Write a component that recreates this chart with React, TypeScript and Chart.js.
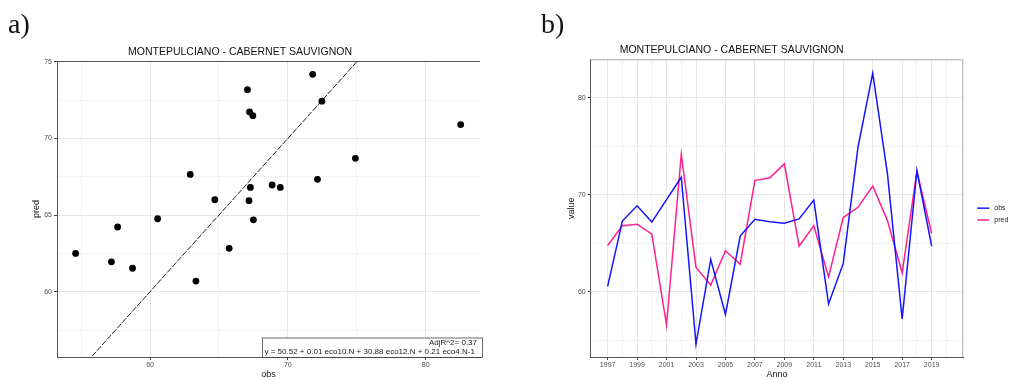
import React, { useEffect, useRef } from "react";
import { Chart, registerables } from "chart.js";

Chart.register(...registerables);

// ---------- data ----------
const years = [
  1997, 1998, 1999, 2000, 2001, 2002, 2003, 2004, 2005, 2006, 2007, 2008,
  2009, 2010, 2011, 2012, 2013, 2014, 2015, 2016, 2017, 2018, 2019,
];
const obs = [
  60.55, 67.28, 68.86, 67.18, 69.5, 71.8, 54.6, 63.33, 57.65, 65.74, 67.46,
  67.22, 67.07, 67.5, 69.45, 58.73, 62.92, 74.9, 82.54, 72.15, 57.2, 72.47,
  64.7,
];
const pred = [
  64.76, 66.8, 66.96, 65.94, 56.57, 74.18, 62.5, 60.69, 64.22, 62.83, 71.48,
  71.73, 73.18, 64.69, 66.8, 61.53, 67.65, 68.7, 70.9, 67.33, 61.95, 72.43,
  66.0,
];

const chartTitle = "MONTEPULCIANO - CABERNET SAUVIGNON";
const scatterXLabels = [60, 70, 80];
const scatterXGrid = [55, 60, 65, 70, 75, 80];
const scatterYLabels = [60, 65, 70, 75];
const scatterYGrid = [57.5, 60, 62.5, 65, 67.5, 70, 72.5, 75];
const yearLabels = [
  1997, 1999, 2001, 2003, 2005, 2007, 2009, 2011, 2013, 2015, 2017, 2019,
];
const yearGrid = [
  1997, 1998, 1999, 2000, 2001, 2002, 2003, 2005, 2007, 2009, 2011, 2013,
  2015, 2017, 2018, 2019, 2020,
];
const valueLabels = [60, 70, 80];
const valueGrid = [55, 60, 65, 70, 75, 80];
const adjR2Text = "AdjR^2= 0.37";
const equationText =
  "y = 50.52 + 0.01 eco10.N + 30.88 eco12.N + 0.21 eco4.N-1";
const seriesNames = ["obs", "pred"];
const seriesColors = ["#1414ff", "#ff1f8e"];

const FONT = "'Liberation Sans', Arial, Helvetica, sans-serif";
const SERIF = "'Liberation Serif', 'DejaVu Serif', serif";

const TICK_COLOR = "#4d4d4d";
const AXIS_COLOR = "#555555";
const GRID_MAJOR = "#e6e6e6";
const GRID_MINOR = "#f3f3f3";

function axis(
  min: number,
  max: number,
  grid: number[],
  labels: number[],
  title: string,
  titlePad: any,
  horizontal: boolean,
  size: number
) {
  return {
    type: "linear",
    min,
    max,
    afterBuildTicks: (s: any) => {
      s.ticks = grid.map((v) => ({ value: v }));
    },
    afterFit: (s: any) => {
      if (horizontal) s.height = size;
      else s.width = size;
    },
    ticks: {
      autoSkip: false,
      maxRotation: 0,
      padding: horizontal ? 1 : 2,
      color: TICK_COLOR,
      font: { family: FONT, size: 7 },
      callback: (v: any) => (labels.includes(Number(v)) ? String(v) : ""),
    },
    grid: {
      color: (c: any) =>
        c.tick && labels.includes(c.tick.value) ? GRID_MAJOR : GRID_MINOR,
      tickColor: (c: any) =>
        c.tick && labels.includes(c.tick.value) ? "#444" : "rgba(0,0,0,0)",
      tickLength: 3,
      lineWidth: 1,
    },
    border: { display: true, color: AXIS_COLOR, width: 1 },
    title: {
      display: true,
      text: title,
      color: "#111",
      font: { family: FONT, size: 9 },
      padding: titlePad,
    },
  };
}

function ScatterPanel() {
  const ref = useRef<HTMLCanvasElement>(null);
  useEffect(() => {
    if (!ref.current) return;
    const xMin = 53.25;
    const xMax = 83.94;
    const points = obs.map((o, i) => ({ x: o, y: pred[i] }));
    const panelPlugin = {
      id: "panelDeco",
      afterDatasetsDraw(chart: any) {
        const { ctx, chartArea } = chart;
        const { left, right, top, bottom } = chartArea;
        ctx.save();
        // equation box
        const bx = right - 218;
        const by = bottom - 19.5;
        ctx.fillStyle = "#ffffff";
        ctx.fillRect(bx, by, right + 2 - bx, bottom - by);
        ctx.strokeStyle = "#444";
        ctx.lineWidth = 0.8;
        ctx.strokeRect(bx + 0.5, by + 0.5, right + 2 - bx, bottom - by);
        ctx.fillStyle = "#222";
        ctx.font = `8px ${FONT}`;
        ctx.textBaseline = "middle";
        ctx.textAlign = "right";
        ctx.fillText(adjR2Text, right - 3, by + 5.5);
        ctx.textAlign = "left";
        ctx.fillText(equationText, bx + 2.5, by + 14);
        // top border
        ctx.strokeStyle = AXIS_COLOR;
        ctx.lineWidth = 1;
        ctx.beginPath();
        ctx.moveTo(left, top + 0.5);
        ctx.lineTo(right, top + 0.5);
        ctx.stroke();
        ctx.restore();
      },
      afterDraw(chart: any) {
        const { ctx } = chart;
        ctx.save();
        ctx.fillStyle = "#111";
        ctx.font = `28px ${SERIF}`;
        ctx.textBaseline = "alphabetic";
        ctx.textAlign = "left";
        ctx.fillText("a)", 8, 33);
        ctx.restore();
      },
    };
    const chart = new Chart(ref.current, {
      type: "scatter",
      data: {
        datasets: [
          {
            label: "points",
            data: points,
            backgroundColor: "#000",
            borderWidth: 0,
            pointRadius: 3.4,
          },
          {
            type: "line",
            label: "identity",
            data: [
              { x: xMin, y: xMin },
              { x: xMax, y: xMax },
            ],
            borderColor: "#222",
            borderWidth: 1,
            borderDash: [6, 1.5],
            pointRadius: 0,
            fill: false,
          } as any,
        ],
      },
      options: {
        responsive: false,
        animation: false,
        devicePixelRatio: 1,
        layout: { padding: { left: 0, right: 20, top: 0, bottom: 0 } },
        plugins: {
          legend: { display: false },
          tooltip: { enabled: false },
          title: {
            display: true,
            text: chartTitle,
            color: "#111",
            font: { family: FONT, size: 10.5, weight: "normal" },
            padding: { top: 45.4, bottom: 3 },
          },
        },
        scales: {
          x: axis(xMin, xMax, scatterXGrid, scatterXLabels, "obs", { top: 0, bottom: 0 }, true, 23),
          y: axis(55.74, 75.05, scatterYGrid, scatterYLabels, "pred", { top: 31.6, bottom: 0 }, false, 57),
        } as any,
      },
      plugins: [panelPlugin],
    } as any);
    return () => chart.destroy();
  }, []);
  return (
    <canvas
      ref={ref}
      width={500}
      height={380}
      style={{ position: "absolute", left: 0, top: 0, width: 500, height: 380 }}
    />
  );
}

function LinePanel() {
  const ref = useRef<HTMLCanvasElement>(null);
  useEffect(() => {
    if (!ref.current) return;
    const deco = {
      id: "lineDeco",
      afterDraw(chart: any) {
        const { ctx, chartArea } = chart;
        const { left, right, top, bottom } = chartArea;
        ctx.save();
        // light panel border top/right
        ctx.strokeStyle = "#aaaaaa";
        ctx.lineWidth = 1;
        ctx.beginPath();
        ctx.moveTo(left, top + 0.5);
        ctx.lineTo(right - 0.5, top + 0.5);
        ctx.lineTo(right - 0.5, bottom);
        ctx.stroke();
        // legend
        const mid = (top + bottom) / 2;
        ctx.font = `7px ${FONT}`;
        ctx.textBaseline = "middle";
        ctx.textAlign = "left";
        chart.data.datasets.forEach((ds: any, i: number) => {
          const y = mid + i * 11.8;
          ctx.strokeStyle = ds.borderColor;
          ctx.lineWidth = 1.5;
          ctx.beginPath();
          ctx.moveTo(right + 14, y);
          ctx.lineTo(right + 26, y);
          ctx.stroke();
          ctx.fillStyle = "#222";
          ctx.fillText(ds.label, right + 31, y);
        });
        // panel letter
        ctx.fillStyle = "#111";
        ctx.font = `28px ${SERIF}`;
        ctx.textBaseline = "alphabetic";
        ctx.fillText("b)", 41, 33);
        ctx.restore();
      },
    };
    const chart = new Chart(ref.current, {
      type: "line",
      data: {
        datasets: [obs, pred].map((arr, k) => ({
          label: seriesNames[k],
          data: arr.map((v, i) => ({ x: years[i], y: v })),
          borderColor: seriesColors[k],
          backgroundColor: seriesColors[k],
          borderWidth: 1.5,
          pointRadius: 0,
          tension: 0,
          fill: false,
        })),
      },
      options: {
        responsive: false,
        animation: false,
        devicePixelRatio: 1,
        layout: { padding: { left: 0, right: 49.7, top: 0, bottom: 0 } },
        plugins: {
          legend: { display: false },
          tooltip: { enabled: false },
          title: {
            display: true,
            text: chartTitle,
            color: "#111",
            font: { family: FONT, size: 10.5, weight: "normal" },
            padding: { top: 43.7, bottom: 3 },
          },
        },
        scales: {
          x: axis(1995.85, 2021.15, yearGrid, yearLabels, "Anno", { top: 0, bottom: 0 }, true, 23),
          y: axis(53.27, 83.96, valueGrid, valueLabels, "value", { top: 66.6, bottom: 0 }, false, 90.7),
        } as any,
      },
      plugins: [deco],
    } as any);
    return () => chart.destroy();
  }, []);
  return (
    <canvas
      ref={ref}
      width={513}
      height={380}
      style={{ position: "absolute", left: 500, top: 0, width: 513, height: 380 }}
    />
  );
}

export default function App() {
  return (
    <div
      style={{
        position: "fixed",
        left: 0,
        top: 0,
        width: 1013,
        height: 380,
        background: "#ffffff",
        overflow: "hidden",
      }}
    >
      <ScatterPanel />
      <LinePanel />
    </div>
  );
}
